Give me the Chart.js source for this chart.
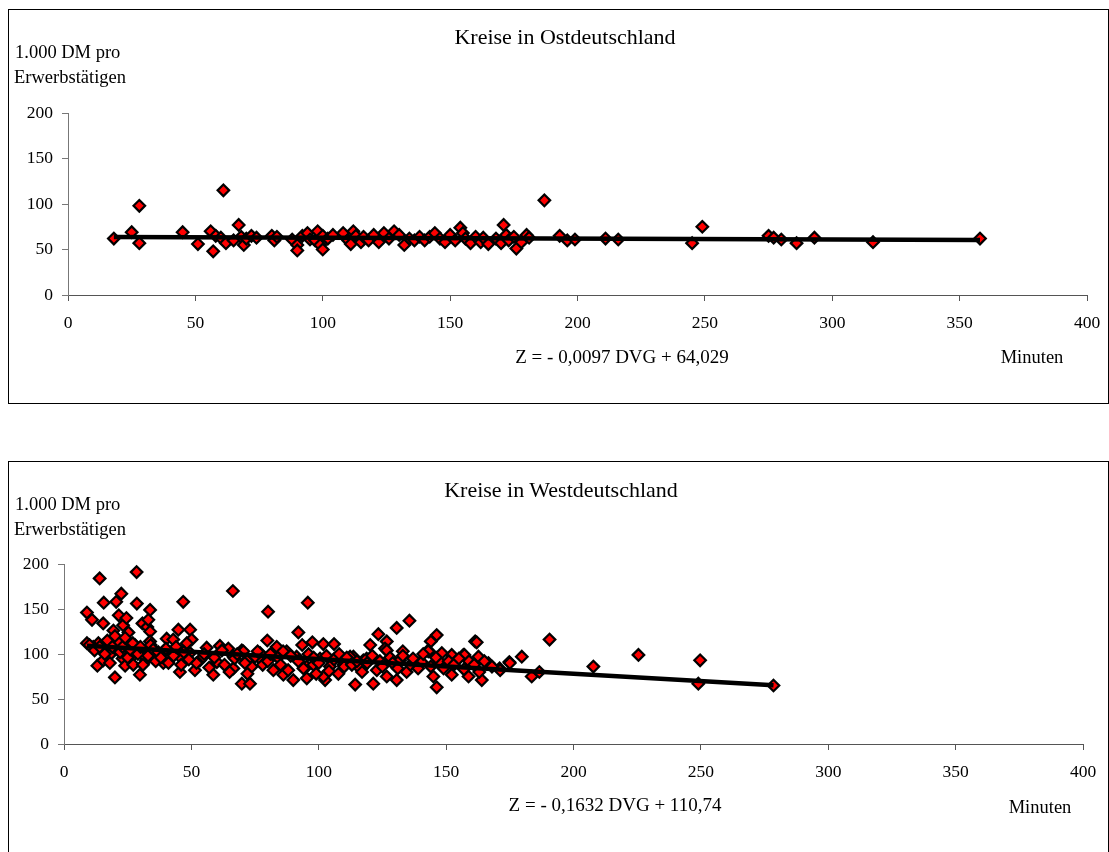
<!DOCTYPE html>
<html><head><meta charset="utf-8">
<script src="https://cdn.jsdelivr.net/npm/chart.js@4.4.0/dist/chart.umd.min.js"></script>
<style>
body{margin:0;background:#fff;width:1109px;height:852px;overflow:hidden;position:relative;font-family:"Liberation Serif",serif;}
.box{position:absolute;border:1px solid #000;box-sizing:border-box;}
.t{position:absolute;font-family:"Liberation Serif",serif;color:#000;white-space:nowrap;line-height:1;}
.c{transform:translate(-50%,-50%);}
.l{transform:translateY(-50%);}
canvas{position:absolute;}
</style></head><body>
<div class="box" style="left:8px;top:9px;width:1101px;height:395px"></div>
<div class="box" style="left:8px;top:461px;width:1101px;height:400px"></div>
<canvas id="east" width="1098" height="392" style="left:9px;top:10px"></canvas>
<canvas id="west" width="1098" height="389" style="left:9px;top:463px"></canvas>
<div id="labels"></div>
<script>
const titles = ["Kreise in Ostdeutschland", "Kreise in Westdeutschland"];
const yAxisLabel = ["1.000 DM pro", "Erwerbstätigen"];
const xAxisLabel = "Minuten";
const equations = ["Z = - 0,0097 DVG + 64,029", "Z = - 0,1632 DVG + 110,74"];
const xTicks = [0, 50, 100, 150, 200, 250, 300, 350, 400];
const yTicks = [0, 50, 100, 150, 200];

const eastX = [18,25,28,28,45,51,56,57,58,60,61,62,65,67,68,69,70,72,74,80,81,82,88,90,90,92,94,95,97,98,99,100,100,102,104,108,110,111,112,113,115,116,118,120,122,124,126,128,130,132,134,136,138,140,142,144,146,148,150,152,154,155,156,158,160,162,163,165,168,170,171,172,173,175,176,178,180,181,187,193,196,199,211,216,245,249,275,277,280,286,293,316,358];
const eastY = [62,69,98,57,69,56,70,48,65,63,115,57,60,77,64,55,62,65,63,65,60,64,61,55,49,65,68,61,60,70,55,50,65,62,66,68,60,56,70,65,58,64,60,66,58,68,62,70,66,55,62,60,64,60,64,68,62,58,66,60,74,68,62,57,64,58,63,56,62,57,77,66,60,64,51,58,66,63,104,65,60,61,62,61,57,75,65,63,61,57,63,58,62];

const westX = [
9,14,28.5,15.6,20.5,22.5,21.5,28.6,33.8,11,
15.4,19.4,23.2,24.5,30.8,32.7,33.1,33.8,25.3,46.8,
66.3,80.1,95.7,44.9,49.5,123.4,130.6,92,9,40.3,
42.9,50.1,79.8,93.5,97.5,101.8,106,120.2,126.7,56,
61.2,64.5,13.5,21.3,15.4,18,23,27.9,32.7,13.1,
20,29.8,24,32.2,39,45.5,51.4,60,58.6,66.5,
69.8,73,73.7,69.8,82.2,86.1,90,95.3,83.5,77,
77.6,70.4,53.4,42.9,38.7,31.8,26.6,27.2,15.4,11.5,
33.8,48.2,45.5,49.5,54.7,66.5,71.7,114.3,121.4,116.9,
126,122.8,126.7,130.6,102.5,107.7,109.7,113.6,117.5,100.5,
95.3,91.3,87.4,83.5,135.6,146.3,144,143,161.4,133,
126.7,156.8,162.7,152.2,148.3,179.7,174.8,190.6,207.8,171,
166.6,183.6,186.6,146.3,164,158.8,152.2,145,101.8,134.5,
116.2,109.7,104.4,97.9,139.8,147.6,154.2,131.9,118.8,112.3,
225.5,249.7,249,278.5,162,175,171.2,157.2,140.4,143,
52,55,57,59,62,63,65,67,68,71,
72,75,76,78,80,81,84,85,86,88,
89,92,94,96,98,99,100,103,104,106,
108,110,111,113,115,117,119,121,124,125,
128,129,131,133,136,137,139,141,144,146,
149,151,153,155,157,159,161,163,165,168,
10,12,14,16,17,18,19,20,22,23,
24,25,26,27,29,30,31,33,34,35,
36,37,38,40,41,43,44,46,47,49];
const westY = [
146,184,191,157,158,167,143,156,149,138,
134,126,132,140,134,130,138,125,124,158,
170,147,157,127,127,122,129,124,112,117,
116,116,115,110,113,111,111,110,114,107,
109,106,112,114,106,99,95,110,104,87,
74,77,87,93,90,80,82,91,77,84,
67,67,86,104,82,77,71,73,104,101,
93,103,93,101,101,97,97,88,93,108,
114,112,97,101,97,97,93,66,67,84,
106,82,75,71,71,78,91,97,93,95,
86,97,103,108,137,121,114,104,114,103,
104,99,97,99,101,97,91,116,86,84,
90,75,80,63,71,75,77,75,75,80,
84,88,86,88,91,91,93,93,95,97,
99,93,67,65,113,90,82,99,91,103,
90,100,85,96,104,88,80,95,100,90,
78,97,103,88,92,100,96,88,103,82,
98,92,84,100,96,78,90,98,81,94,
100,86,96,88,92,80,90,98,92,86,
96,90,84,98,88,95,84,100,86,96,
84,92,88,95,83,92,88,80,92,86,
110,104,108,100,115,90,108,120,102,108,
118,96,105,112,100,108,88,98,110,105,
92,102,96,106,90,98,108,88,102,94];

// regression line end points (from the printed equations)
const eastTrendX = [18, 358];
const eastTrendY = [63.85, 60.56];
const westTrendX = [9, 278.5];
const westTrendY = [109.27, 65.29];

function zip(xs, ys){ return xs.map((x,i)=>({x:x, y:ys[i]})); }

function makeChart(id, xs, ys, tx, ty, yAxisW, pad){
  const tickFont = {family:'"Liberation Serif", serif', size:17.5};
  new Chart(document.getElementById(id), {
    type:'scatter',
    data:{datasets:[
      {data:zip(tx,ty), showLine:true, borderColor:'#000', borderWidth:4.5, pointRadius:0, fill:false, order:1},
      {data:zip(xs,ys), pointStyle:'rectRot', pointRadius:5.8, pointBackgroundColor:'#ff0000', pointBorderColor:'#000', pointBorderWidth:2.2, order:2}
    ]},
    options:{
      responsive:false, animation:false, events:[],
      layout:{padding:pad},
      plugins:{legend:{display:false}, tooltip:{enabled:false}},
      scales:{
        x:{type:'linear', min:0, max:400, afterBuildTicks:s=>{s.ticks=xTicks.map(v=>({value:v}));},
           afterFit:s=>{s.height=40; s.paddingLeft=0; s.paddingRight=0;},
           grid:{drawOnChartArea:false, drawTicks:true, tickLength:6, color:'#555'},
           border:{display:true, color:'#555', width:1},
           ticks:{font:tickFont, color:'#000', padding:12, maxRotation:0}},
        y:{type:'linear', min:0, max:200, afterBuildTicks:s=>{s.ticks=yTicks.map(v=>({value:v}));},
           afterFit:s=>{s.width=yAxisW; s.paddingTop=0; s.paddingBottom=0;},
           grid:{drawOnChartArea:false, drawTicks:true, tickLength:6, color:'#777'},
           border:{display:true, color:'#777', width:1},
           ticks:{font:tickFont, color:'#000', padding:9}}
      }
    }
  });
}
makeChart('east', eastX, eastY, eastTrendX, eastTrendY, 59, {left:0, top:103, right:20, bottom:67});
makeChart('west', westX, westY, westTrendX, westTrendY, 55, {left:0, top:101, right:24, bottom:68});

// text annotations
const L = document.getElementById('labels');
function txt(s, x, y, size, cls){
  const d = document.createElement('div');
  d.className = 't ' + cls; d.textContent = s;
  d.style.left = x + 'px'; d.style.top = y + 'px'; d.style.fontSize = size + 'px';
  L.appendChild(d);
}
txt(titles[0], 565, 37, 22, 'c');
txt(yAxisLabel[0], 15, 52, 18.5, 'l');
txt(yAxisLabel[1], 14, 77, 18.5, 'l');
txt(equations[0], 622, 356, 19, 'c');
txt(xAxisLabel, 1032, 357, 18.5, 'c');

txt(titles[1], 561, 490, 22, 'c');
txt(yAxisLabel[0], 15, 504, 18.5, 'l');
txt(yAxisLabel[1], 14, 529, 18.5, 'l');
txt(equations[1], 615, 804, 19, 'c');
txt(xAxisLabel, 1040, 807, 18.5, 'c');
</script>
</body></html>
